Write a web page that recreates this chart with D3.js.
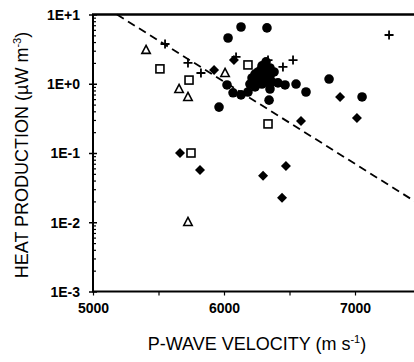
<!DOCTYPE html>
<meta charset="utf-8">
<script src="https://d3js.org/d3.v7.min.js"></script>
<style>
  body { margin: 0; background: #fff; }
  text { font-family: "Liberation Sans", Arial, sans-serif; fill: #000; }
</style>
<div id="chart"></div>

<script>
// P-wave velocity (m/s) and heat production (uW/m3)
var circleVel = [6130, 6328, 6031, 5962, 6344, 6023, 6069, 6130, 6183, 6237, 6290, 6351,
                 6412, 6466, 6550, 6626, 6802, 7054, 6214, 6260, 6290, 6321, 6351, 6305,
                 6260, 6351, 6366, 6198, 6321, 6282, 6336, 6382, 6237];
var circleHeat = [6.6, 6.4, 4.58, 0.46, 0.58, 0.96, 0.74, 0.69, 0.76, 0.90, 0.99, 0.84,
                  1.03, 0.96, 0.99, 0.76, 1.17, 0.645, 1.21, 1.48, 1.81, 2.07, 1.69, 1.34,
                  1.13, 1.29, 1.06, 0.99, 1.06, 1.58, 1.53, 1.48, 1.38];

var diamondVel = [5664, 5817, 6473, 6298, 6443, 6886, 6588, 7015, 5924, 6076];
var diamondHeat = [0.100, 0.057, 0.065, 0.047, 0.0225, 0.645, 0.29, 0.32, 1.58, 2.20];

var plusVel = [5550, 5725, 5824, 6092, 6336, 6450, 6527, 7260];
var plusHeat = [3.75, 2.0, 1.43, 2.44, 2.20, 1.75, 2.20, 5.06];

var squareVel = [5511, 5733, 6183, 6336, 5748];
var squareHeat = [1.64, 1.13, 1.87, 0.263, 0.100];

var triangleVel = [5405, 5657, 5725, 6008, 5725];
var triangleHeat = [3.08, 0.84, 0.645, 1.43, 0.0101];

// dashed trend line end points
var trendVel = [5183, 7500];
var trendHeat = [10, 0.0178];

var xTicks = [5000, 6000, 7000];
var xMinor = [5500, 6500, 7500];
var yTicks = [1e-3, 1e-2, 1e-1, 1e0, 1e1];
var yLabels = ["1E-3", "1E-2", "1E-1", "1E+0", "1E+1"];

var width = 414, height = 362;

var svg = d3.select("#chart")
  .append("svg")
    .attr("width", width)
    .attr("height", height);

var x = d3.scaleLinear().domain([5000, 7500]).range([93, 420.5]);
var y = d3.scaleLog().domain([1e-3, 10]).range([291.5, 14.5]);

// minor y ticks (inside)
var yMinor = [];
yTicks.slice(0, 4).forEach(function(t) {
  for (var k = 2; k <= 9; k++) yMinor.push(t * k);
});

svg.append("g")
    .attr("transform", "translate(" + x(5000) + ",0)")
    .call(d3.axisRight(y).tickValues(yMinor).tickSize(3).tickFormat(""))
    .call(function(g) { g.select(".domain").remove(); })
    .selectAll("line").attr("stroke-width", 1.2);

// major y ticks
svg.append("g")
    .attr("transform", "translate(" + x(5000) + ",0)")
    .call(d3.axisLeft(y).tickValues(yTicks).tickSize(4).tickPadding(9)
      .tickFormat(function(d, i) { return yLabels[i]; }))
    .call(function(g) {
      g.select(".domain").remove();
      g.selectAll("line").attr("x2", -4).attr("x1", 4).attr("stroke-width", 1.5);
      g.selectAll("text").style("font-size", "14px").style("font-weight", "bold")
        .attr("dy", "0.35em");
    });

// x ticks
svg.append("g")
    .attr("transform", "translate(0," + y(1e-3) + ")")
    .call(d3.axisBottom(x).tickValues(xTicks.concat(xMinor)).tickSize(4).tickPadding(8)
      .tickFormat(function(d) { return xTicks.indexOf(d) >= 0 ? d : ""; }))
    .call(function(g) {
      g.select(".domain").remove();
      g.selectAll("line").attr("stroke-width", 1.2);
      g.selectAll("text").style("font-size", "14px").style("font-weight", "bold");
    });

// frame lines
svg.append("line")
    .attr("x1", x(5000)).attr("x2", x(5000))
    .attr("y1", y(10)).attr("y2", y(1e-3))
    .attr("stroke", "#000").attr("stroke-width", 2);
svg.append("line")
    .attr("x1", x(5000) - 1).attr("x2", width)
    .attr("y1", y(1e-3)).attr("y2", y(1e-3))
    .attr("stroke", "#000").attr("stroke-width", 2);
svg.append("line")
    .attr("x1", x(5000) - 1).attr("x2", width)
    .attr("y1", y(10)).attr("y2", y(10))
    .attr("stroke", "#000").attr("stroke-width", 2.5);

// dashed line
svg.append("path")
    .datum(d3.zip(trendVel, trendHeat))
    .attr("d", d3.line().x(function(d) { return x(d[0]); }).y(function(d) { return y(d[1]); }))
    .attr("fill", "none")
    .attr("stroke", "#000")
    .attr("stroke-width", 1.8)
    .attr("stroke-dasharray", "8,5");

// markers
svg.append("g").selectAll("circle")
  .data(d3.zip(circleVel, circleHeat))
  .enter()
  .append("circle")
    .attr("cx", function(d) { return x(d[0]); })
    .attr("cy", function(d) { return y(d[1]); })
    .attr("r", 4.8)
    .attr("fill", "#000");

svg.append("g").selectAll("path")
  .data(d3.zip(diamondVel, diamondHeat))
  .enter()
  .append("path")
    .attr("transform", function(d) { return "translate(" + x(d[0]) + "," + y(d[1]) + ")"; })
    .attr("d", "M0,-5L5,0L0,5L-5,0Z")
    .attr("fill", "#000");

svg.append("g").selectAll("path")
  .data(d3.zip(plusVel, plusHeat))
  .enter()
  .append("path")
    .attr("transform", function(d) { return "translate(" + x(d[0]) + "," + y(d[1]) + ")"; })
    .attr("d", "M-4.5,0H4.5M0,-4.5V4.5")
    .attr("stroke", "#000")
    .attr("stroke-width", 1.8);

svg.append("g").selectAll("rect")
  .data(d3.zip(squareVel, squareHeat))
  .enter()
  .append("rect")
    .attr("x", function(d) { return x(d[0]) - 4; })
    .attr("y", function(d) { return y(d[1]) - 4; })
    .attr("width", 8)
    .attr("height", 8)
    .attr("fill", "#fff")
    .attr("stroke", "#000")
    .attr("stroke-width", 1.6);

svg.append("g").selectAll("path")
  .data(d3.zip(triangleVel, triangleHeat))
  .enter()
  .append("path")
    .attr("transform", function(d) { return "translate(" + x(d[0]) + "," + y(d[1]) + ")"; })
    .attr("d", "M0,-4.5L4.2,3.5L-4.2,3.5Z")
    .attr("fill", "#fff")
    .attr("stroke", "#000")
    .attr("stroke-width", 1.6);

// axis titles
var xt = svg.append("text")
    .attr("x", 257)
    .attr("y", 350)
    .attr("text-anchor", "middle")
    .style("font-size", "18px");
xt.append("tspan").text("P-WAVE VELOCITY (m s");
xt.append("tspan").attr("dy", -7).style("font-size", "11px").text("-1");
xt.append("tspan").attr("dy", 7).text(")");

var yt = svg.append("text")
    .attr("transform", "translate(28,155) rotate(-90)")
    .attr("text-anchor", "middle")
    .style("font-size", "18px");
yt.append("tspan").text("HEAT PRODUCTION (\u00b5W m");
yt.append("tspan").attr("dy", -7).style("font-size", "11px").text("-3");
yt.append("tspan").attr("dy", 7).text(")");
</script>
